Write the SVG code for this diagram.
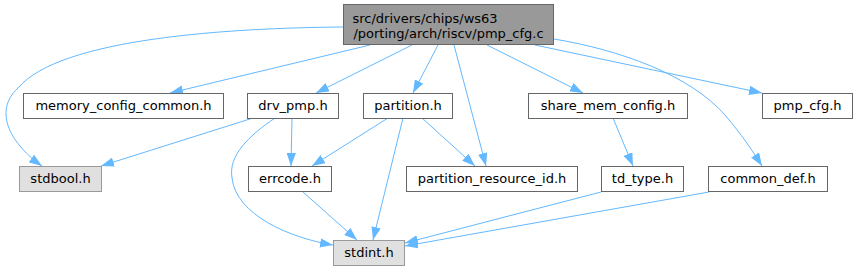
<svg xmlns="http://www.w3.org/2000/svg" width="858" height="271" viewBox="0 0 858 271">
<style>
.n rect{fill:#ffffff;stroke:#666666;stroke-width:1}
.n.g rect{fill:#e0e0e0;stroke:#999999}
.n.root rect{fill:#999999;stroke:#666666}
text{font-family:"DejaVu Sans","Liberation Sans",sans-serif;font-size:13px;fill:#000000}
.n text{text-anchor:middle}
#edges path{fill:none;stroke:#63b8ff;stroke-width:1;marker-end:url(#ah)}
</style>
<defs>
<marker id="ah" viewBox="0 0 13 9.4" markerWidth="13" markerHeight="9.4" refX="13" refY="4.7" orient="auto" markerUnits="userSpaceOnUse">
<path d="M0,0 L13,4.7 L0,9.4 z" fill="#63b8ff"/>
</marker>
</defs>
<rect x="0" y="0" width="858" height="271" fill="#ffffff"/>
<g id="edges">
<path d="M343,27 C230,28 60,38 18,88 C-8,112 12,145 42,166"/>
<path d="M370,45 L170,93"/>
<path d="M412,45 L316,93"/>
<path d="M438,45 L413,93"/>
<path d="M454,45 L486,166"/>
<path d="M487,45 L583,93"/>
<path d="M535,45 L762,93"/>
<path d="M554,39 C620,50 690,75 725,115 C742,135 752,150 762,166"/>
<path d="M253,118 L101,166"/>
<path d="M292,118 L291,166"/>
<path d="M275,118 C250,135 228,155 232,178 C236,215 290,238 333,245"/>
<path d="M388,118 L312,166"/>
<path d="M422,118 L475,166"/>
<path d="M403,118 L373,240"/>
<path d="M303,192 L357,240"/>
<path d="M613,118 L633,166"/>
<path d="M601,192 L405,243"/>
<path d="M709,192 L405,246"/>
</g>
<g id="node_root" class="n root">
<rect x="343.5" y="4.5" width="210" height="40"/>
<text x="352.5" y="23" style="text-anchor:start">src/drivers/chips/ws63</text>
<text x="448.5" y="38">/porting/arch/riscv/pmp_cfg.c</text>
</g>
<g id="node_memory_config_common" class="n">
<rect x="23.5" y="93.5" width="200" height="25"/>
<text x="123.5" y="110">memory_config_common.h</text>
</g>
<g id="node_drv_pmp" class="n">
<rect x="247.5" y="93.5" width="91" height="25"/>
<text x="293" y="110">drv_pmp.h</text>
</g>
<g id="node_partition" class="n">
<rect x="363.5" y="93.5" width="89" height="25"/>
<text x="408" y="110">partition.h</text>
</g>
<g id="node_share_mem_config" class="n">
<rect x="528.5" y="93.5" width="159" height="25"/>
<text x="608" y="110">share_mem_config.h</text>
</g>
<g id="node_pmp_cfg" class="n">
<rect x="762.5" y="93.5" width="90" height="25"/>
<text x="807.5" y="110">pmp_cfg.h</text>
</g>
<g id="node_stdbool" class="n g">
<rect x="19.5" y="166.5" width="82" height="25"/>
<text x="60.5" y="183">stdbool.h</text>
</g>
<g id="node_errcode" class="n">
<rect x="248.5" y="166.5" width="83" height="25"/>
<text x="290" y="183">errcode.h</text>
</g>
<g id="node_partition_resource_id" class="n">
<rect x="406.5" y="166.5" width="171" height="25"/>
<text x="492" y="183">partition_resource_id.h</text>
</g>
<g id="node_td_type" class="n">
<rect x="601.5" y="166.5" width="82" height="25"/>
<text x="642.5" y="183">td_type.h</text>
</g>
<g id="node_common_def" class="n">
<rect x="708.5" y="166.5" width="119" height="25"/>
<text x="768" y="183">common_def.h</text>
</g>
<g id="node_stdint" class="n g">
<rect x="333.5" y="240.5" width="71" height="25"/>
<text x="369" y="257">stdint.h</text>
</g>
</svg>
